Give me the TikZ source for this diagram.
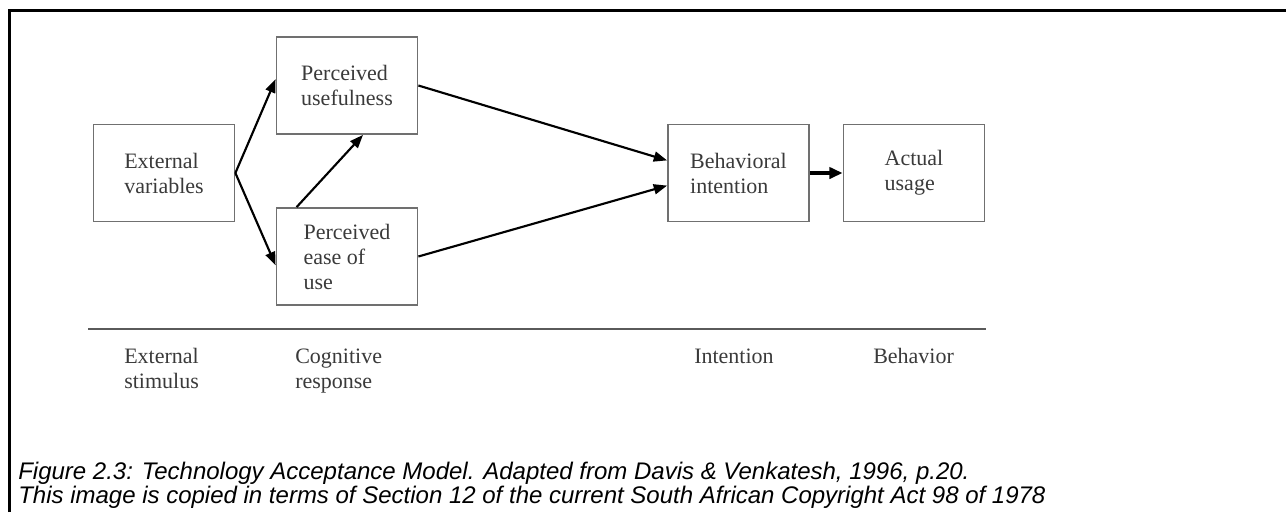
\documentclass[tikz,border=0pt]{standalone}
\usepackage{fontspec}
\setmainfont{Liberation Serif}
\newfontfamily\captionsans{Liberation Sans}
\usepackage{xcolor}
\usetikzlibrary{calc,arrows.meta}
\definecolor{tamgray}{RGB}{112,112,112}
\definecolor{tamtext}{RGB}{58,58,58}
\definecolor{tamrule}{RGB}{90,90,90}

\begin{document}
\begin{tikzpicture}[x=0.75pt, y=-0.75pt,
  tambox/.style={draw=tamgray, line width=1.1pt, minimum width=106pt, minimum height=73pt, inner sep=0pt, align=left, text=tamtext, font=\fontsize{16.5}{18.75}\selectfont},
  stagelabel/.style={anchor=base west, inner sep=0pt, align=left, text=tamtext, font=\fontsize{16.5}{18.75}\selectfont},
  tamarrow/.style={line width=1.6pt, -{Triangle[length=10pt, width=7.5pt]}}]
\useasboundingbox (0,0) rectangle (1286,512);
\draw[line width=2.25pt] (9,512) -- (9,10) -- (1286,10);

\node[tambox] (ext) at (164,173) {External\\variables};
\node[tambox] (pu) at (347,85.5) {Perceived\\usefulness};
\node[tambox] (peou) at (347,256.5) {Perceived\\ease of\\use};
\node[tambox] (bi) at (738.5,173) {Behavioral\\intention};
\node[tambox] (au) at (914,173) {Actual\\usage};

\draw[tamarrow] (ext.east) -- (pu.175);
\draw[tamarrow] (ext.east) -- (peou.187);
\draw[tamarrow] ($(peou.north west)+(21,0)$) -- ($(pu.south)+(16,0)$);
\draw[tamarrow] (pu.east) -- (bi.170);
\draw[tamarrow] (peou.east) -- (bi.190);
\draw[line width=3pt, -{Triangle[length=10pt, width=8.5pt]}] (bi.east) -- (au.west);

\draw[tamrule, line width=1.5pt] (88,329) -- (986,329);

\node[stagelabel] (stimulus) at (124,388) {External\\stimulus};
\node[stagelabel] (response) at (295,388) {Cognitive\\response};
\node[stagelabel] (intent) at (694,363) {Intention};
\node[stagelabel] (behav) at (873,363) {Behavior};

\node[anchor=base west, inner sep=0pt, align=left, font=\captionsans\itshape\fontsize{18}{16.5}\selectfont] (caption) at (18,503) {Figure 2.3: Technology Acceptance Model. Adapted from Davis \& Venkatesh, 1996, p.20.\\This image is copied in terms of Section 12 of the current South African Copyright Act 98 of 1978};
\end{tikzpicture}
\end{document}
